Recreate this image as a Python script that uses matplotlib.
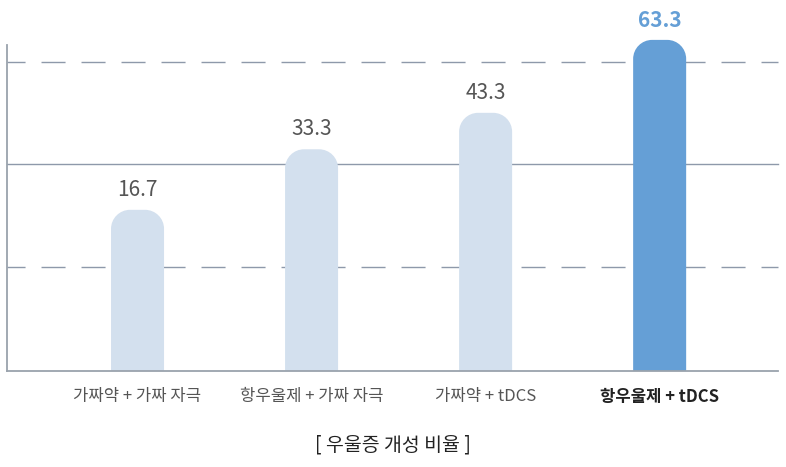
import matplotlib
matplotlib.use("Agg")
import matplotlib.pyplot as plt
from matplotlib.path import Path
from matplotlib.patches import PathPatch

plt.rcParams['font.family'] = ['Noto Sans CJK KR', 'DejaVu Sans']
plt.rcParams['lines.scale_dashes'] = False

categories = ["가짜약 + 가짜 자극", "항우울제 + 가짜 자극", "가짜약 + tDCS", "항우울제 + tDCS"]
values = [16.7, 33.3, 43.3, 63.3]
value_labels = ["16.7", "33.3", "43.3", "63.3"]
title = "[ 우울증 개성 비율 ]"

light = "#d3e0ee"
dark = "#659fd6"
grid_c = "#8e99aa"

W, H = 786, 467
fig = plt.figure(figsize=(W/100, H/100), dpi=100)
ax = fig.add_axes([7/W, (H-371)/H, (778-7)/W, (371-45)/H])

lo, hi = -27.5, 61.9
ax.set_ylim(lo, hi)
ax.set_xlim(-0.75, 3.68)

dash = (4.3, (17.3, 11.5))
for f, ls in [(0.948, dash), (0.635, '-'), (0.319, dash)]:
    ax.plot([0, 1], [f, f], transform=ax.transAxes, color=grid_c, lw=1.0,
            linestyle=ls, zorder=1, clip_on=False)

x = list(range(len(categories)))
colors = [light, light, light, dark]
bars = ax.bar(x, [v - lo for v in values], bottom=lo, width=53/174,
              color=colors, zorder=2)

fig.canvas.draw()
r_px = 19
for b, c in zip(bars, colors):
    b.set_visible(False)
    x0, y0 = b.get_x(), b.get_y()
    w, h = b.get_width(), b.get_height()
    x1, y1 = x0 + w, y0 + h
    (px0, py0) = ax.transData.transform((0, 0))
    (px1, py1) = ax.transData.transform((1, 1))
    rx = r_px / (px1 - px0)
    ry = r_px / (py1 - py0)
    k = 0.5523
    verts = [(x0, y0), (x0, y1 - ry),
             (x0, y1 - ry + k*ry), (x0 + rx - k*rx, y1), (x0 + rx, y1),
             (x1 - rx, y1),
             (x1 - rx + k*rx, y1), (x1, y1 - ry + k*ry), (x1, y1 - ry),
             (x1, y0), (x0, y0)]
    codes = [Path.MOVETO, Path.LINETO,
             Path.CURVE4, Path.CURVE4, Path.CURVE4,
             Path.LINETO,
             Path.CURVE4, Path.CURVE4, Path.CURVE4,
             Path.LINETO, Path.CLOSEPOLY]
    ax.add_patch(PathPatch(Path(verts, codes), facecolor=c, edgecolor='none',
                           zorder=2, clip_on=False))

for i, (v, lab) in enumerate(zip(values, value_labels)):
    last = i == len(values) - 1
    ax.annotate(lab, (i, v), xytext=(0, 9), textcoords='offset pixels',
                ha='center', va='bottom', fontsize=15,
                color=dark if last else "#555555",
                fontweight='bold' if last else 'light', annotation_clip=False)

for s in ['top', 'right']:
    ax.spines[s].set_visible(False)
ax.spines['left'].set_color("#9aa3ad")
ax.spines['left'].set_linewidth(1.3)
ax.spines['bottom'].set_color("#9aa3ad")
ax.spines['bottom'].set_linewidth(1.3)
ax.set_yticks([])
ax.set_xticks(x)
ax.set_xticklabels(categories)
ax.tick_params(axis='x', length=0, pad=12)
for i, t in enumerate(ax.get_xticklabels()):
    last = i == len(categories) - 1
    t.set_fontsize(12)
    t.set_color("#222222" if last else "#555555")
    t.set_fontweight('bold' if last else 'light')

fig.text(0.5, 1 - 445/H, title, ha='center', va='center', fontsize=14, color="#222222")

fig.savefig("out.png", dpi=100)
